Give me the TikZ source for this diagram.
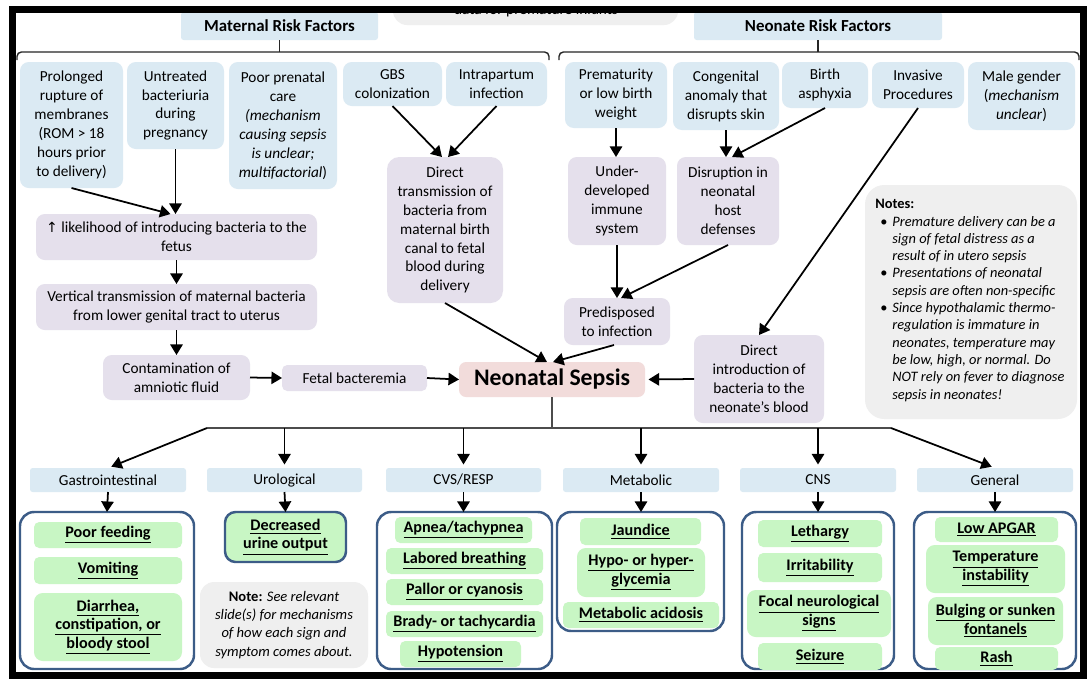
\documentclass[tikz,border=0pt]{standalone}
\usepackage{fontspec}
\setmainfont{Carlito}
\newfontfamily\arrowfont{DejaVu Sans}
\usetikzlibrary{arrows.meta,calc}

\definecolor{riskblue}{RGB}{219,234,243}
\definecolor{mechpurple}{RGB}{229,224,236}
\definecolor{sepsispink}{RGB}{242,220,219}
\definecolor{notegray}{RGB}{239,239,239}
\definecolor{signgreen}{RGB}{200,246,196}
\definecolor{groupblue}{RGB}{60,92,135}

% one drawing unit = 0.02cm
\newlength\pu \setlength\pu{0.02cm}
% \bx{name}{x1}{y1}{x2}{y2}{style}{text}: box given by its corners
\newcommand\bx[7]{\node[#6, minimum width={(#4-#2)*0.02cm}, minimum height={(#5-#3)*0.02cm}] (#1) at ({(#2+#4)/2},{(#3+#5)/2}) {#7};}
\newcommand\ulx[1]{\underline{#1}}
\newcommand\blt{\makebox[17\pu][l]{\hspace{5\pu}\upshape\textbullet}}
\newcommand\ind{\hspace{17\pu}}

\begin{document}
\begin{tikzpicture}[x=0.02cm, y=-0.02cm,
  base/.style={inner sep=0pt, outer sep=0pt, align=center, font=\fontsize{8.7}{10.8}\selectfont},
  risk/.style={base, fill=riskblue, rounded corners=5pt},
  mech/.style={base, fill=mechpurple, rounded corners=5pt},
  cat/.style={base, fill=riskblue, rounded corners=1.5pt},
  sign/.style={base, fill=signgreen, rounded corners=3pt, font=\fontsize{9.2}{10.6}\selectfont\bfseries},
  group/.style={base, draw=groupblue, fill=white, line width=1.4pt, rounded corners=8pt},
  arr/.style={-{Triangle[length=6pt,width=7pt]}, line width=1pt},
  tree/.style={line width=0.8pt, draw=black!70},
  bracket/.style={line width=0.8pt, draw=black!85, rounded corners=2.5pt},
]
\useasboundingbox (0,0) rectangle (1091,681);
\fill[white] (0,0) rectangle (1091,681);

% note strip running off the top edge
\begin{scope}
  \clip (0,13) rectangle (1091,40);
  \bx{topnote}{393}{-15}{678}{25}{base, fill=notegray, rounded corners=8pt}{}
  \node[base, anchor=base] (toptext) at (536,14.5) {data for premature infants};
\end{scope}

% group headings and brackets
\bx{mhead}{181}{12}{378}{40}{cat, font=\fontsize{9.6}{11}\selectfont\bfseries}{Maternal Risk Factors}
\bx{nhead}{694}{12}{942}{40}{cat, font=\fontsize{9.6}{11}\selectfont\bfseries}{Neonate Risk Factors}
\coordinate (brk) at (0,52);
\draw[bracket] (17,60) -- (17,52) -- (549,52) -- (549,60);
\draw[bracket] (559,60) -- (559,52) -- (1079,52) -- (1079,60);
\draw[bracket] (mhead.south) -- (mhead.south |- brk);
\draw[bracket] (nhead.south) -- (nhead.south |- brk);

% maternal risk factors
\bx{prol}{20}{62}{123}{188}{risk}{Prolonged\\rupture of\\membranes\\(ROM > 18\\hours prior\\to delivery)}
\bx{untr}{127}{62}{224}{149}{risk}{Untreated\\bacteriuria\\during\\pregnancy}
\bx{poor}{229}{62}{337}{189}{risk}{Poor prenatal\\care\\\textit{(mechanism}\\\textit{causing sepsis}\\\textit{is unclear;}\\\textit{multifactorial})}
\bx{gbs}{343}{62}{442}{106}{risk}{GBS\\colonization}
\bx{intra}{446}{62}{547}{106}{risk}{Intrapartum\\infection}

% neonate risk factors
\bx{prem}{565}{62}{667}{128}{risk}{Prematurity\\or low birth\\weight}
\bx{cong}{673}{62}{779}{130}{risk}{Congenital\\anomaly that\\disrupts skin}
\bx{asph}{782}{62}{868}{108}{risk}{Birth\\asphyxia}
\bx{inv}{872}{62}{964}{108}{risk}{Invasive\\Procedures}
\bx{male}{968}{62}{1075}{130}{risk}{Male gender\\(\textit{mechanism}\\\textit{unclear})}

% mechanisms
\bx{lik}{36}{214}{317}{260}{mech}{{\arrowfont\fontsize{8}{10}\selectfont ↑} likelihood of introducing bacteria to the\\fetus}
\bx{vert}{36}{284}{317}{330}{mech}{Vertical transmission of maternal bacteria\\from lower genital tract to uterus}
\bx{cont}{103}{355}{250}{400}{mech}{Contamination of\\amniotic fluid}
\bx{fb}{282}{365}{427}{391}{mech, rounded corners=3pt}{Fetal bacteremia}
\bx{dt}{387}{157}{503}{303}{mech, rounded corners=7pt}{Direct\\transmission of\\bacteria from\\maternal birth\\canal to fetal\\blood during\\delivery}
\bx{und}{568}{157}{666}{245}{mech}{Under-\\developed\\immune\\system}
\bx{disr}{677}{157}{779}{245}{mech}{Disruption in\\neonatal\\host\\defenses}
\bx{pred}{564}{298}{670}{345}{mech}{Predisposed\\to infection}
\bx{dint}{694}{335}{824}{423}{mech}{Direct\\introduction of\\bacteria to the\\neonate’s blood}
\bx{ns}{459}{362}{645}{397}{base, fill=sepsispink, rounded corners=4pt, font=\fontsize{13.5}{15}\selectfont\bfseries}{Neonatal Sepsis}

% notes panel
\bx{notes}{865}{185}{1077}{419}{base, fill=notegray, rounded corners=11pt}{}
\node[inner sep=0pt, anchor=north west, align=left, font=\fontsize{8.2}{9.85}\selectfont\itshape] (notestext) at (875,199) {%
\textbf{\upshape Notes:}\\
\blt Premature delivery can be a\\
\ind sign of fetal distress as a\\
\ind result of in utero sepsis\\
\blt Presentations of neonatal\\
\ind sepsis are often non-specific\\
\blt Since hypothalamic thermo-\\
\ind regulation is immature in\\
\ind neonates, temperature may\\
\ind be low, high, or normal. Do\\
\ind NOT rely on fever to diagnose\\
\ind sepsis in neonates!};

% risk factor arrows
\draw[arr] (prol.south) -- ($(lik.north)+(-6,0)$);
\draw[arr] (untr.south) -- (untr.south |- lik.north);
\draw[arr] (lik.south) -- (vert.north);
\draw[arr] (vert.south) -- (cont.north);
\draw[arr] (cont.east) -- (fb.west);
\draw[arr] (fb.east) -- (ns.west);
\draw[arr] (gbs.south) -- ($(dt.north)+(-3,0)$);
\draw[arr] (intra.south) -- ($(dt.north)+(3,0)$);
\draw[arr] (dt.south) -- ($(ns.north)+(-5,0)$);
\draw[arr] (prem.south) -- (prem.south |- und.north);
\draw[arr] (cong.south) -- (cong.south |- disr.north);
\draw[arr] (asph.south) -- ($(disr.north)+(4,0)$);
\draw[arr] (und.south) -- (und.south |- pred.north);
\draw[arr] (disr.south) -- ($(pred.north)+(4,0)$);
\draw[arr] ($(pred.south)+(-3,0)$) -- ($(ns.north)+(1,0)$);
\draw[arr] (inv.south) -- (dint.north);
\draw[arr, shorten >=2pt] (dint.west) -- (ns.east);

% sign categories
\bx{cgi}{30}{468}{186}{492}{cat}{Gastrointestinal}
\bx{curo}{207}{468}{362}{492}{cat}{Urological}
\bx{ccvs}{386}{468}{541}{492}{cat}{CVS/RESP}
\bx{cmet}{563}{468}{719}{492}{cat}{Metabolic}
\bx{ccns}{740}{468}{896}{492}{cat}{CNS}
\bx{cgen}{917}{468}{1073}{492}{cat}{General}

\coordinate (tl) at (207,428);
\coordinate (tr) at (891,428);
\draw[tree] (ns.south) -- (ns.south |- tl);
\draw[tree] (tl) -- (tr);
\draw[arr, shorten >=2pt] (tl) -- (cgi.north);
\draw[arr, shorten >=2pt] (curo.north |- tl) -- (curo.north);
\draw[arr, shorten >=2pt] (ccvs.north |- tl) -- (ccvs.north);
\draw[arr, shorten >=2pt] (cmet.north |- tl) -- (cmet.north);
\draw[arr, shorten >=2pt] (ccns.north |- tl) -- (ccns.north);
\draw[arr, shorten >=2pt] (tr) -- (cgen.north);

% sign groups
\bx{gigrp}{20}{512}{194}{669}{group}{}
\bx{urobox}{225}{512}{346}{562}{group, fill=signgreen, rounded corners=6pt, font=\fontsize{9.2}{10.6}\selectfont\bfseries}{\ulx{Decreased}\\\ulx{urine output}}
\bx{cvsgrp}{377}{512}{552}{669}{group}{}
\bx{metgrp}{557}{512}{724}{631}{group}{}
\bx{cnsgrp}{742}{512}{894}{669}{group}{}
\bx{gengrp}{914}{512}{1076}{669}{group}{}

\draw[arr] (cgi.south) -- (gigrp.north);
\draw[arr] (curo.south) -- (urobox.north);
\draw[arr] (ccvs.south) -- (ccvs.south |- cvsgrp.north);
\draw[arr] (cmet.south) -- (cmet.south |- metgrp.north);
\draw[arr] (ccns.south) -- (ccns.south |- cnsgrp.north);
\draw[arr] (cgen.south) -- (cgen.south |- gengrp.north);

% gastrointestinal
\bx{gi1}{34}{522}{182}{548}{sign}{\ulx{Poor feeding}}
\bx{gi2}{34}{557}{182}{584}{sign}{\ulx{Vomiting}}
\bx{gi3}{34}{593}{182}{661}{sign, rounded corners=5pt}{\ulx{Diarrhea,}\\\ulx{constipation, or}\\\ulx{bloody stool}}
% cardiovascular / respiratory
\bx{cv1}{395}{517}{532}{543}{sign}{\ulx{Apnea/tachypnea}}
\bx{cv2}{386}{548}{543}{574}{sign}{\ulx{Labored breathing}}
\bx{cv3}{386}{579}{543}{605}{sign}{\ulx{Pallor or cyanosis}}
\bx{cv4}{386}{611}{543}{637}{sign}{\ulx{Brady- or tachycardia}}
\bx{cv5}{400}{641}{521}{667}{sign}{\ulx{Hypotension}}
% metabolic
\bx{me1}{580}{518}{701}{545}{sign}{\ulx{Jaundice}}
\bx{me2}{577}{548}{705}{597}{sign, rounded corners=5pt}{\ulx{Hypo- or hyper-}\\\ulx{glycemia}}
\bx{me3}{563}{602}{719}{628}{sign}{\ulx{Metabolic acidosis}}
% central nervous system
\bx{cn1}{758}{520}{882}{547}{sign}{\ulx{Lethargy}}
\bx{cn2}{758}{553}{882}{582}{sign}{\ulx{Irritability}}
\bx{cn3}{747}{590}{891}{637}{sign, rounded corners=5pt}{\ulx{Focal neurological}\\\ulx{signs}}
\bx{cn4}{758}{643}{882}{670}{sign}{\ulx{Seizure}}
% general
\bx{ge1}{935}{517}{1058}{542}{sign}{\ulx{Low APGAR}}
\bx{ge2}{926}{545}{1065}{593}{sign, rounded corners=5pt}{\ulx{Temperature}\\\ulx{instability}}
\bx{ge3}{928}{597}{1063}{645}{sign, rounded corners=5pt}{\ulx{Bulging or sunken}\\\ulx{fontanels}}
\bx{ge4}{935}{647}{1058}{670}{sign}{\ulx{Rash}}

% note under urological
\bx{signnote}{200}{582}{368}{668}{base, fill=notegray, rounded corners=8pt, font=\fontsize{8.3}{10.3}\selectfont}{\textbf{Note:} \textit{See relevant}\\\textit{slide(s) for mechanisms}\\\textit{of how each sign and}\\\textit{symptom comes about.}}

% frame
\draw[line width=4pt] (12.5,9.5) rectangle (1083.5,675);
\end{tikzpicture}
\end{document}
